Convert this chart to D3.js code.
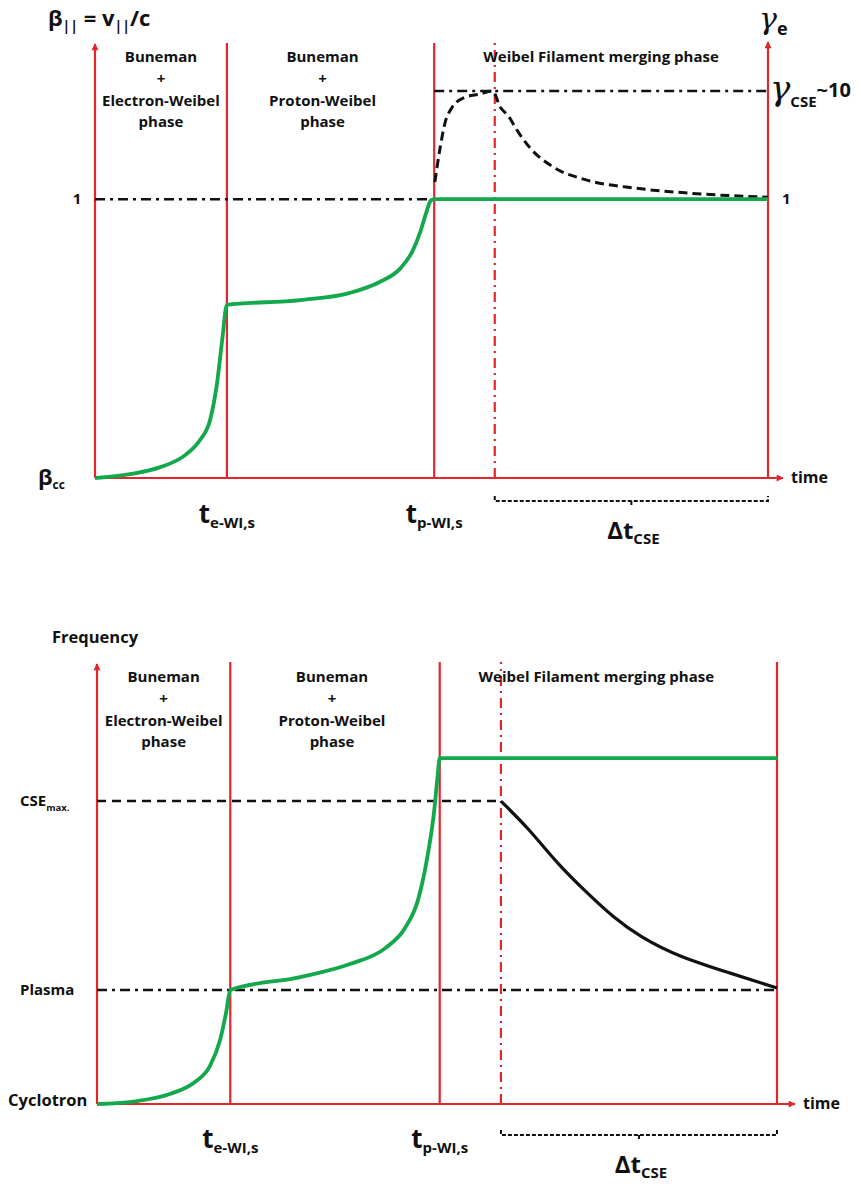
<!DOCTYPE html>
<html>
<head>
<meta charset="utf-8">
<script src="https://cdn.jsdelivr.net/npm/d3@7"></script>
<style>
  body { margin: 0; background: #fff; }
  svg text { font-family: "Open Sans", sans-serif; font-weight: 700; fill: #111; }
</style>
</head>
<body>
<div id="chart"></div>
<script>
// ---- data (time in arbitrary units 0..100) ----
const tEWI = 19.6;     // t_e-WI,s
const tPWI = 50.4;     // t_p-WI,s
const tCSE = 59.4;     // start of CSE / peak of gamma
const tEnd = 100;

const phaseLabels = [
  ["Buneman", "+", "Electron-Weibel", "phase"],
  ["Buneman", "+", "Proton-Weibel", "phase"],
  ["Weibel Filament merging phase"]
];

// top panel: beta_parallel (green) and gamma_e (black dashed)
const betaCurve = [
  [0, 0], [5.2, 0.014], [9.7, 0.039], [13.4, 0.082], [15.6, 0.136], [17.1, 0.208],
  [18.1, 0.334], [18.9, 0.495], [19.6, 0.621], [30.5, 0.638], [37.9, 0.664],
  [42.3, 0.703], [45.3, 0.75], [47.1, 0.81], [48.3, 0.88], [49.2, 0.95],
  [49.9, 0.995], [50.4, 1.0], [100, 1.0]
];
const gammaCurve = [
  [50.5, 1.44], [51.3, 3.03], [52.0, 5.05], [53.0, 6.96], [54.7, 8.61], [57.2, 9.38],
  [59.1, 10], [60.2, 7.11], [61.4, 5.9], [62.7, 4.35], [64.6, 3.0], [68.1, 1.98],
  [73.1, 1.5], [80.5, 1.26], [88.0, 1.14], [100, 1.04]
];
const betaOne = 1;
const gammaCSE = 10;

// bottom panel: frequency (green) and CSE frequency (black)
const freqCurve = [
  [0, 0], [5.9, 0.026], [10.7, 0.088], [14.4, 0.193], [16.6, 0.333], [18.1, 0.561],
  [19.0, 0.807], [19.6, 1.0], [29.9, 1.114], [37.2, 1.228], [42.4, 1.368],
  [45.3, 1.544], [47.2, 1.789], [48.5, 2.14], [49.6, 2.58], [50.1, 2.886],
  [50.4, 3.035], [100, 3.035]
];
const cseCurve = [
  [59.4, 2.658], [63.7, 2.404], [67.6, 2.114], [72.1, 1.851], [75.9, 1.64],
  [79.9, 1.465], [85.7, 1.289], [93.1, 1.149], [100, 1.018]
];
const plasmaLevel = 1;
const cseMaxLevel = 2.658;

const RED = "#e3262b";
const GREEN = "#13a84c";

const svg = d3.select("#chart").append("svg")
  .attr("width", 861).attr("height", 1188);

const defs = svg.append("defs");
defs.append("marker")
  .attr("id", "arrowRed")
  .attr("viewBox", "0 0 10 10")
  .attr("refX", 9).attr("refY", 5)
  .attr("markerWidth", 8).attr("markerHeight", 7)
  .attr("markerUnits", "userSpaceOnUse")
  .attr("orient", "auto")
  .append("path").attr("d", "M0,0L10,5L0,10z").attr("fill", RED);

// text with a subscript part
function subText(g, x, y, parts, anchor) {
  const t = g.append("text").attr("x", x).attr("y", y)
    .attr("text-anchor", anchor || "start");
  let shift = 0;
  parts.forEach(p => {
    const dy = (p.sub || 0) - shift;
    shift = p.sub || 0;
    t.append("tspan").attr("dy", dy).style("font-size", p.size + "px")
      .style("font-weight", p.weight || 700)
      .style("font-family", p.family || null)
      .style("font-style", p.style || null)
      .style("fill", "#111")
      .text(p.text);
  });
  return t;
}

function frame(g, x, c) {
  const yb = c.base;
  // phase boundary lines
  g.selectAll(".phase").data([tEWI, tPWI]).join("line")
    .attr("x1", d => x(d)).attr("x2", d => x(d))
    .attr("y1", yb).attr("y2", c.top)
    .attr("stroke", RED).attr("stroke-width", 2.2);
  // CSE dash-dot line
  g.append("line")
    .attr("x1", x(tCSE)).attr("x2", x(tCSE)).attr("y1", yb).attr("y2", c.top)
    .attr("stroke", RED).attr("stroke-width", 2.2).attr("stroke-dasharray", "10,5,2,5");
  // right axis
  const right = g.append("line")
    .attr("x1", x(tEnd)).attr("x2", x(tEnd)).attr("y1", yb).attr("y2", c.rightTop)
    .attr("stroke", RED).attr("stroke-width", 2.2);
  if (c.rightArrow) right.attr("marker-end", "url(#arrowRed)");
  // left axis
  g.append("line")
    .attr("x1", x(0)).attr("x2", x(0)).attr("y1", yb).attr("y2", c.leftTop)
    .attr("stroke", RED).attr("stroke-width", 2.2).attr("marker-end", "url(#arrowRed)");
  // time axis
  g.append("line")
    .attr("x1", x(0)).attr("x2", c.xEnd).attr("y1", yb).attr("y2", yb)
    .attr("stroke", RED).attr("stroke-width", 2.2).attr("marker-end", "url(#arrowRed)");
  g.append("text").attr("x", c.xEnd + 8).attr("y", yb + 5)
    .style("font-size", "16px").text("time");

  // phase labels
  const mids = [(0 + tEWI) / 2, (tEWI + tPWI) / 2, (tPWI + tEnd) / 2];
  phaseLabels.forEach((lines, i) => {
    lines.forEach((s, j) => {
      g.append("text").attr("x", x(mids[i]) + c.labelShift[i]).attr("y", c.labelY + j * 21.8)
        .attr("text-anchor", "middle").style("font-size", "15px").text(s);
    });
  });

  // time markers
  subText(g, x(tEWI), c.tLabelY, [
    { text: "t", size: 26 }, { text: "e-WI,s", size: 15, sub: 5 }], "middle");
  subText(g, x(tPWI), c.tLabelY, [
    { text: "t", size: 26 }, { text: "p-WI,s", size: 15, sub: 5 }], "middle");

  // delta t bracket
  const bx0 = x(tCSE), bx1 = x(tEnd), bm = (bx0 + bx1) / 2, by = c.bracketY;
  g.append("path")
    .attr("d", `M${bx0},${by - 5}V${by}H${bx1}V${by - 5}M${bm},${by}V${by + 6}`)
    .attr("fill", "none").attr("stroke", "#111").attr("stroke-width", 2)
    .attr("stroke-dasharray", "4,2");
  subText(g, bm + 2, c.dtLabelY, [
    { text: "Δt", size: 24 }, { text: "CSE", size: 15, sub: 5 }], "middle");
}

// ---------------- top panel ----------------
const x1 = d3.scaleLinear().domain([0, 100]).range([95, 768]);
const y1 = d3.scaleLinear().domain([0, 1.56]).range([478, 43]);
const g1 = d3.scaleLog().domain([1, 10]).range([y1(1), 91]);

const topPanel = svg.append("g");
frame(topPanel, x1, {
  base: 478, top: 43, leftTop: 44, rightTop: 42, rightArrow: true, xEnd: 783,
  labelY: 62, labelShift: [0, -8, 0], tLabelY: 523, bracketY: 501, dtLabelY: 539
});

// reference levels
topPanel.append("line")
  .attr("x1", x1(0)).attr("x2", x1(tEnd)).attr("y1", y1(betaOne)).attr("y2", y1(betaOne))
  .attr("stroke", "#111").attr("stroke-width", 2.5).attr("stroke-dasharray", "10,5,3,5");
topPanel.append("line")
  .attr("x1", x1(tPWI)).attr("x2", x1(tEnd)).attr("y1", g1(gammaCSE)).attr("y2", g1(gammaCSE))
  .attr("stroke", "#111").attr("stroke-width", 2.5).attr("stroke-dasharray", "10,5,3,5");

const lineTop = d3.line().x(d => x1(d[0])).y(d => y1(d[1])).curve(d3.curveMonotoneX);
const lineGamma = d3.line().x(d => x1(d[0])).y(d => g1(d[1])).curve(d3.curveMonotoneX);

topPanel.append("path").datum(gammaCurve).attr("d", lineGamma)
  .attr("fill", "none").attr("stroke", "#111").attr("stroke-width", 3)
  .attr("stroke-dasharray", "9,5");
topPanel.append("path").datum(betaCurve).attr("d", lineTop)
  .attr("fill", "none").attr("stroke", GREEN).attr("stroke-width", 3.8);

// top labels
subText(topPanel, 48, 26, [
  { text: "β", size: 22 }, { text: "||", size: 14, sub: 5 },
  { text: " = v", size: 22 }, { text: "||", size: 14, sub: 5 },
  { text: "/c", size: 22 }]);
subText(topPanel, 38, 485, [{ text: "β", size: 22 }, { text: "cc", size: 12, sub: 4 }]);
topPanel.append("text").attr("x", 77).attr("y", y1(betaOne) + 5).attr("text-anchor", "middle")
  .style("font-size", "15px").text("1");
topPanel.append("text").attr("x", 782).attr("y", y1(betaOne) + 5)
  .style("font-size", "15px").text("1");
subText(topPanel, 759, 29, [
  { text: "γ", size: 30, weight: 400, family: "DejaVu Serif", style: "italic" },
  { text: "e", size: 18, sub: 6 }]);
subText(topPanel, 770, g1(gammaCSE) + 9, [
  { text: "γ", size: 34, weight: 400, family: "DejaVu Serif", style: "italic" },
  { text: "CSE", size: 15, sub: 7 }, { text: "~10", size: 20, sub: -3 }]);

// ---------------- bottom panel ----------------
const x2 = d3.scaleLinear().domain([0, 100]).range([97, 777]);
const y2 = d3.scaleLinear().domain([0, 3.87]).range([1104, 663]);

const botPanel = svg.append("g");
frame(botPanel, x2, {
  base: 1104, top: 662, leftTop: 664, rightTop: 662, rightArrow: false, xEnd: 795,
  labelY: 682, labelShift: [0, -3, -12], tLabelY: 1148, bracketY: 1135, dtLabelY: 1173
});

botPanel.append("line")
  .attr("x1", x2(0)).attr("x2", x2(tCSE)).attr("y1", y2(cseMaxLevel)).attr("y2", y2(cseMaxLevel))
  .attr("stroke", "#111").attr("stroke-width", 2.5).attr("stroke-dasharray", "9,6");
botPanel.append("line")
  .attr("x1", x2(0)).attr("x2", x2(tEnd)).attr("y1", y2(plasmaLevel)).attr("y2", y2(plasmaLevel))
  .attr("stroke", "#111").attr("stroke-width", 2.5).attr("stroke-dasharray", "10,5,3,5");

const lineBot = d3.line().x(d => x2(d[0])).y(d => y2(d[1])).curve(d3.curveMonotoneX);
const lineCSE = d3.line().x(d => x2(d[0])).y(d => y2(d[1])).curve(d3.curveBasis);
botPanel.append("path").datum(cseCurve).attr("d", lineCSE)
  .attr("fill", "none").attr("stroke", "#111").attr("stroke-width", 3.2);
botPanel.append("path").datum(freqCurve).attr("d", lineBot)
  .attr("fill", "none").attr("stroke", GREEN).attr("stroke-width", 3.8);

botPanel.append("text").attr("x", 52).attr("y", 643).style("font-size", "16.5px").text("Frequency");
subText(botPanel, 20, y2(cseMaxLevel) + 5, [
  { text: "CSE", size: 15 }, { text: "max.", size: 9.5, sub: 5 }]);
botPanel.append("text").attr("x", 20).attr("y", y2(plasmaLevel) + 5)
  .style("font-size", "15px").text("Plasma");
botPanel.append("text").attr("x", 8).attr("y", y2(0) + 2)
  .style("font-size", "16.5px").text("Cyclotron");
</script>
</body>
</html>
